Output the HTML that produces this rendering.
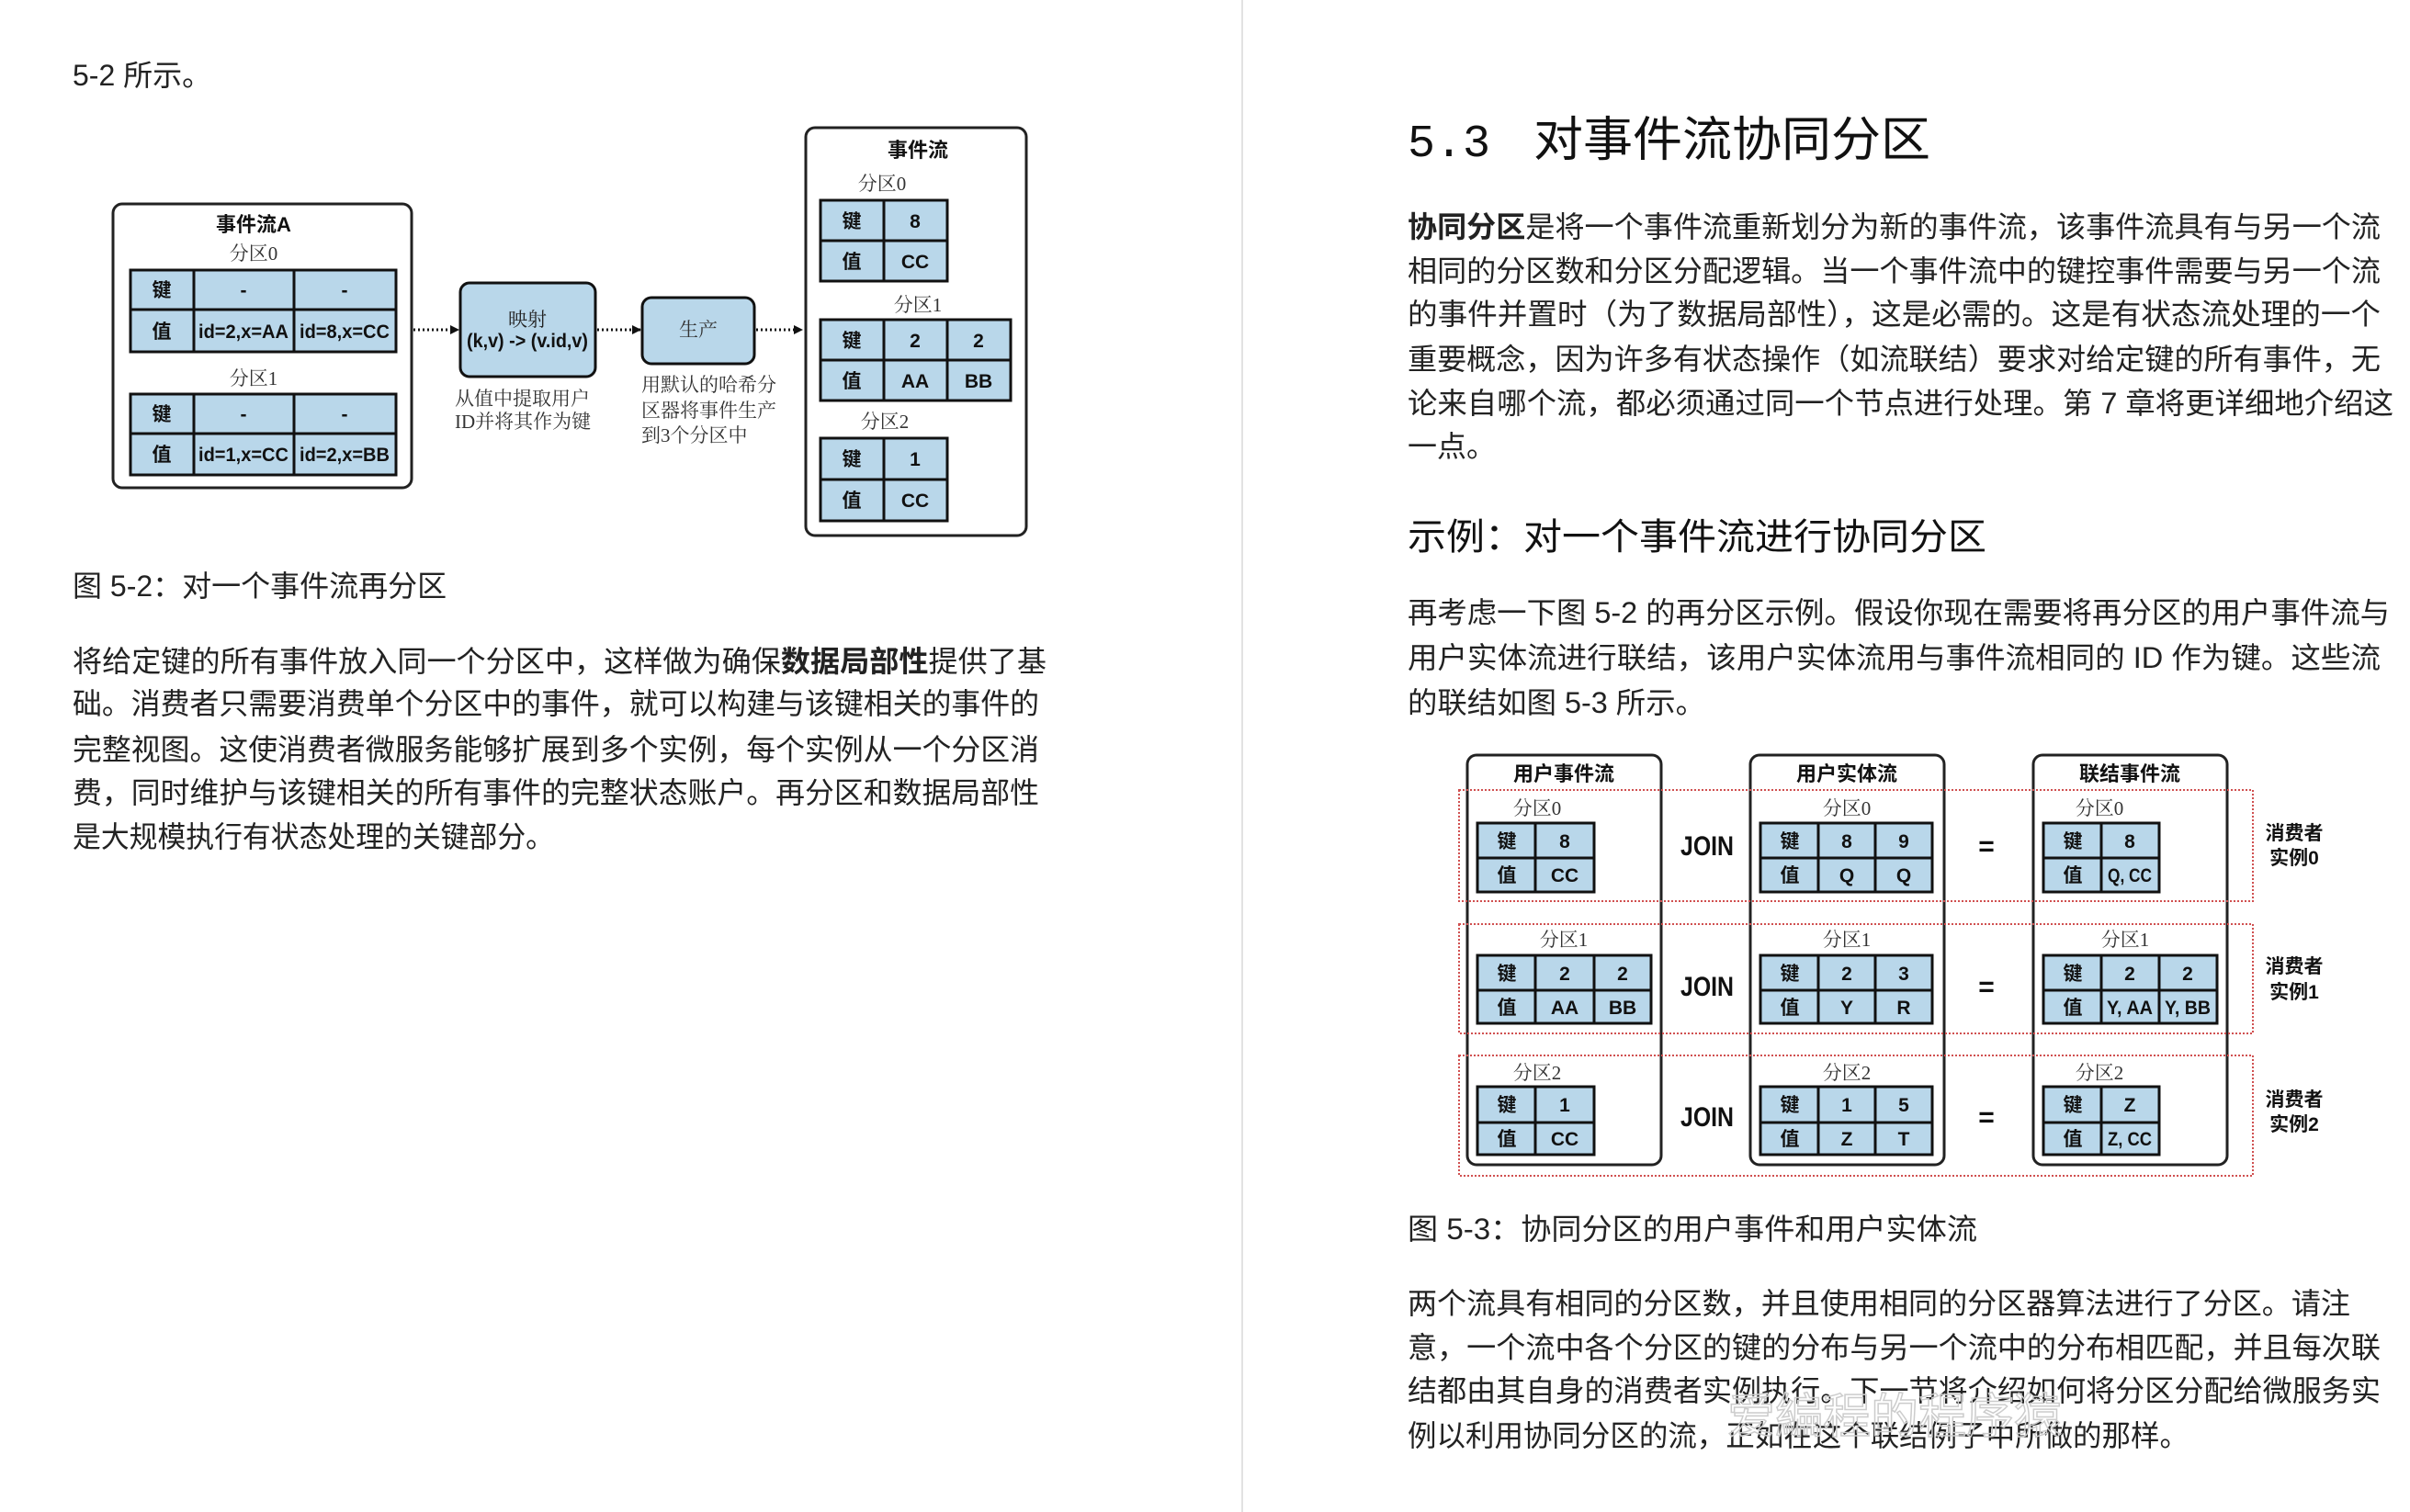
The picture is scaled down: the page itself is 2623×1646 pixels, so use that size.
<!DOCTYPE html>
<html><head><meta charset="utf-8"><style>
html,body{margin:0;padding:0;background:#fff;}
svg{display:block}
.b{font-family:"Liberation Sans","Noto Sans CJK SC",sans-serif;font-size:32px;fill:#222}
.d{font-family:"Liberation Sans","Noto Sans CJK SC",sans-serif;fill:#111}
.c{font-size:21px;text-anchor:middle;font-weight:bold}
.s{font-family:"Liberation Serif","Noto Serif CJK SC",serif;font-size:21px;fill:#333;text-anchor:middle}
</style></head><body>
<svg width="2623" height="1646" viewBox="0 0 2623 1646" xmlns="http://www.w3.org/2000/svg">
<rect width="2623" height="1646" fill="#fff"/>
<line x1="1352" y1="0" x2="1352" y2="1646" stroke="#e2e2e2" stroke-width="2"/>
<defs><marker id="ah" markerWidth="10" markerHeight="10" refX="9" refY="5" orient="auto" markerUnits="userSpaceOnUse"><path d="M0,0 L10,5 L0,10 z" fill="#111"/></marker></defs>

<!-- LEFT PAGE TEXT -->
<text class="b" x="79" y="93">5-2 所示。</text>
<text class="b" x="79" y="649">图 5-2：对一个事件流再分区</text>
<text class="b" x="79" y="731" textLength="1060" lengthAdjust="spacingAndGlyphs">将给定键的所有事件放入同一个分区中，这样做为确保<tspan font-weight="bold">数据局部性</tspan>提供了基</text>
<text class="b" x="79" y="777" textLength="1052" lengthAdjust="spacingAndGlyphs">础。消费者只需要消费单个分区中的事件，就可以构建与该键相关的事件的</text>
<text class="b" x="79" y="827" textLength="1052" lengthAdjust="spacingAndGlyphs">完整视图。这使消费者微服务能够扩展到多个实例，每个实例从一个分区消</text>
<text class="b" x="79" y="874" textLength="1052" lengthAdjust="spacingAndGlyphs">费，同时维护与该键相关的所有事件的完整状态账户。再分区和数据局部性</text>
<text class="b" x="79" y="922" textLength="524" lengthAdjust="spacingAndGlyphs">是大规模执行有状态处理的关键部分。</text>

<!-- LEFT DIAGRAM -->
<g class="d">
<rect x="123" y="222" width="325" height="309" rx="10" fill="#fff" stroke="#222" stroke-width="3"/>
<text x="276" y="252" font-size="22" text-anchor="middle" font-weight="bold">事件流A</text>
<text class="s" x="276" y="283">分区0</text>
<rect x="142" y="294" width="289" height="89" fill="#b9d7ea" stroke="#111" stroke-width="3"/>
<path d="M211 294V383M320 294V383M142 337H431" stroke="#111" stroke-width="3"/>
<text class="c" x="176" y="323">键</text><text class="c" x="265" y="323">-</text><text class="c" x="375" y="323">-</text>
<text class="c" x="176" y="368">值</text><text class="c" x="265" y="368" textLength="98" lengthAdjust="spacingAndGlyphs">id=2,x=AA</text><text class="c" x="375" y="368" textLength="98" lengthAdjust="spacingAndGlyphs">id=8,x=CC</text>
<text class="s" x="276" y="419">分区1</text>
<rect x="142" y="429" width="289" height="88" fill="#b9d7ea" stroke="#111" stroke-width="3"/>
<path d="M211 429V517M320 429V517M142 472H431" stroke="#111" stroke-width="3"/>
<text class="c" x="176" y="458">键</text><text class="c" x="265" y="458">-</text><text class="c" x="375" y="458">-</text>
<text class="c" x="176" y="502">值</text><text class="c" x="265" y="502" textLength="98" lengthAdjust="spacingAndGlyphs">id=1,x=CC</text><text class="c" x="375" y="502" textLength="98" lengthAdjust="spacingAndGlyphs">id=2,x=BB</text>

<line x1="450" y1="359" x2="499" y2="359" stroke="#111" stroke-width="3" stroke-dasharray="2,3" marker-end="url(#ah)"/>
<rect x="501" y="308" width="147" height="102" rx="10" fill="#b9d7ea" stroke="#111" stroke-width="3"/>
<text class="s" x="574" y="355" style="fill:#222">映射</text>
<text class="c" x="574" y="378" textLength="132" lengthAdjust="spacingAndGlyphs">(k,v) -&gt; (v.id,v)</text>
<text class="s" x="495" y="441" style="text-anchor:start">从值中提取用户</text>
<text class="s" x="495" y="466" style="text-anchor:start">ID并将其作为键</text>
<line x1="650" y1="359" x2="697" y2="359" stroke="#111" stroke-width="3" stroke-dasharray="2,3" marker-end="url(#ah)"/>
<rect x="699" y="324" width="122" height="72" rx="10" fill="#b9d7ea" stroke="#111" stroke-width="3"/>
<text class="s" x="760" y="366">生产</text>
<text class="s" x="698" y="426" style="text-anchor:start">用默认的哈希分</text>
<text class="s" x="698" y="454" style="text-anchor:start">区器将事件生产</text>
<text class="s" x="698" y="481" style="text-anchor:start">到3个分区中</text>
<line x1="823" y1="359" x2="873" y2="359" stroke="#111" stroke-width="3" stroke-dasharray="2,3" marker-end="url(#ah)"/>

<rect x="877" y="139" width="240" height="444" rx="10" fill="#fff" stroke="#222" stroke-width="3"/>
<text x="999" y="171" font-size="22" text-anchor="middle" font-weight="bold">事件流</text>
<text class="s" x="960" y="207">分区0</text>
<rect x="893" y="218" width="138" height="88" fill="#b9d7ea" stroke="#111" stroke-width="3"/>
<path d="M962 218V306M893 262H1031" stroke="#111" stroke-width="3"/>
<text class="c" x="927" y="248">键</text><text class="c" x="996" y="248">8</text>
<text class="c" x="927" y="292">值</text><text class="c" x="996" y="292">CC</text>
<text class="s" x="999" y="339">分区1</text>
<rect x="893" y="348" width="207" height="88" fill="#b9d7ea" stroke="#111" stroke-width="3"/>
<path d="M962 348V436M1031 348V436M893 392H1100" stroke="#111" stroke-width="3"/>
<text class="c" x="927" y="378">键</text><text class="c" x="996" y="378">2</text><text class="c" x="1065" y="378">2</text>
<text class="c" x="927" y="422">值</text><text class="c" x="996" y="422">AA</text><text class="c" x="1065" y="422">BB</text>
<text class="s" x="963" y="466">分区2</text>
<rect x="893" y="477" width="138" height="90" fill="#b9d7ea" stroke="#111" stroke-width="3"/>
<path d="M962 477V567M893 522H1031" stroke="#111" stroke-width="3"/>
<text class="c" x="927" y="507">键</text><text class="c" x="996" y="507">1</text>
<text class="c" x="927" y="552">值</text><text class="c" x="996" y="552">CC</text>
</g>

<!-- RIGHT PAGE TEXT -->
<text x="1532" y="170" style="font-family:'Liberation Mono',monospace;font-size:50px;fill:#111">5.3</text>
<text x="1669" y="170" textLength="432" lengthAdjust="spacingAndGlyphs" style="font-family:'Liberation Sans','Noto Sans CJK SC',sans-serif;font-size:52px;fill:#111">对事件流协同分区</text>
<text class="b" x="1532" y="258" textLength="1059" lengthAdjust="spacingAndGlyphs"><tspan font-weight="bold">协同分区</tspan>是将一个事件流重新划分为新的事件流，该事件流具有与另一个流</text>
<text class="b" x="1532" y="306" textLength="1059" lengthAdjust="spacingAndGlyphs">相同的分区数和分区分配逻辑。当一个事件流中的键控事件需要与另一个流</text>
<text class="b" x="1532" y="353" textLength="1059" lengthAdjust="spacingAndGlyphs">的事件并置时（为了数据局部性），这是必需的。这是有状态流处理的一个</text>
<text class="b" x="1532" y="402" textLength="1059" lengthAdjust="spacingAndGlyphs">重要概念，因为许多有状态操作（如流联结）要求对给定键的所有事件，无</text>
<text class="b" x="1532" y="450" textLength="1073" lengthAdjust="spacingAndGlyphs">论来自哪个流，都必须通过同一个节点进行处理。第 7 章将更详细地介绍这</text>
<text class="b" x="1532" y="497">一点。</text>
<text x="1532" y="598" textLength="630" lengthAdjust="spacingAndGlyphs" style="font-family:'Liberation Sans','Noto Sans CJK SC',sans-serif;font-size:40px;fill:#111">示例：对一个事件流进行协同分区</text>
<text class="b" x="1532" y="678" textLength="1069" lengthAdjust="spacingAndGlyphs">再考虑一下图 5-2 的再分区示例。假设你现在需要将再分区的用户事件流与</text>
<text class="b" x="1532" y="727" textLength="1059" lengthAdjust="spacingAndGlyphs">用户实体流进行联结，该用户实体流用与事件流相同的 ID 作为键。这些流</text>
<text class="b" x="1532" y="776" textLength="324" lengthAdjust="spacingAndGlyphs">的联结如图 5-3 所示。</text>
<text class="b" x="1532" y="1349" textLength="620" lengthAdjust="spacingAndGlyphs">图 5-3：协同分区的用户事件和用户实体流</text>
<text class="b" x="1532" y="1430" textLength="1026" lengthAdjust="spacingAndGlyphs">两个流具有相同的分区数，并且使用相同的分区器算法进行了分区。请注</text>
<text class="b" x="1532" y="1478" textLength="1059" lengthAdjust="spacingAndGlyphs">意，一个流中各个分区的键的分布与另一个流中的分布相匹配，并且每次联</text>
<text class="b" x="1532" y="1525" textLength="1059" lengthAdjust="spacingAndGlyphs">结都由其自身的消费者实例执行。下一节将介绍如何将分区分配给微服务实</text>
<text class="b" x="1532" y="1574" textLength="850" lengthAdjust="spacingAndGlyphs">例以利用协同分区的流，正如在这个联结例子中所做的那样。</text>
<text x="1880" y="1560" style="font-family:'Noto Sans CJK SC',sans-serif;font-size:52px;fill:none;stroke:#ccc;stroke-width:1.5">爱編程的程序猿</text>

<!-- RIGHT DIAGRAM -->
<g class="d">
<rect x="1597" y="822" width="211" height="446" rx="10" fill="#fff" stroke="#222" stroke-width="3"/>
<rect x="1905" y="822" width="211" height="446" rx="10" fill="#fff" stroke="#222" stroke-width="3"/>
<rect x="2213" y="822" width="211" height="446" rx="10" fill="#fff" stroke="#222" stroke-width="3"/>
<g fill="none" stroke="#d05050" stroke-width="2" stroke-dasharray="2,2">
<rect x="1588" y="860" width="864" height="121"/>
<rect x="1588" y="1006" width="864" height="119"/>
<rect x="1588" y="1149" width="864" height="131"/>
</g>
<text x="1702" y="850" font-size="22" text-anchor="middle" font-weight="bold">用户事件流</text>
<text x="2010" y="850" font-size="22" text-anchor="middle" font-weight="bold">用户实体流</text>
<text x="2318" y="850" font-size="22" text-anchor="middle" font-weight="bold">联结事件流</text>

<text class="s" x="1673" y="887">分区0</text><text class="s" x="2010" y="887">分区0</text><text class="s" x="2285" y="887">分区0</text>
<text class="s" x="1702" y="1030">分区1</text><text class="s" x="2010" y="1030">分区1</text><text class="s" x="2313" y="1030">分区1</text>
<text class="s" x="1673" y="1175">分区2</text><text class="s" x="2010" y="1175">分区2</text><text class="s" x="2285" y="1175">分区2</text>

<!-- row0 -->
<rect x="1608" y="896" width="127" height="75" fill="#b9d7ea" stroke="#111" stroke-width="3"/>
<path d="M1671 896V971M1608 934H1735" stroke="#111" stroke-width="3"/>
<text class="c" x="1640" y="923">键</text><text class="c" x="1703" y="923">8</text>
<text class="c" x="1640" y="960">值</text><text class="c" x="1703" y="960">CC</text>
<rect x="1916" y="896" width="187" height="75" fill="#b9d7ea" stroke="#111" stroke-width="3"/>
<path d="M1979 896V971M2041 896V971M1916 934H2103" stroke="#111" stroke-width="3"/>
<text class="c" x="1948" y="923">键</text><text class="c" x="2010" y="923">8</text><text class="c" x="2072" y="923">9</text>
<text class="c" x="1948" y="960">值</text><text class="c" x="2010" y="960">Q</text><text class="c" x="2072" y="960">Q</text>
<rect x="2224" y="896" width="126" height="75" fill="#b9d7ea" stroke="#111" stroke-width="3"/>
<path d="M2287 896V971M2224 934H2350" stroke="#111" stroke-width="3"/>
<text class="c" x="2256" y="923">键</text><text class="c" x="2318" y="923">8</text>
<text class="c" x="2256" y="960">值</text><text class="c" x="2318" y="960" textLength="48" lengthAdjust="spacingAndGlyphs">Q, CC</text>

<!-- row1 -->
<rect x="1608" y="1040" width="189" height="74" fill="#b9d7ea" stroke="#111" stroke-width="3"/>
<path d="M1671 1040V1114M1735 1040V1114M1608 1078H1797" stroke="#111" stroke-width="3"/>
<text class="c" x="1640" y="1067">键</text><text class="c" x="1703" y="1067">2</text><text class="c" x="1766" y="1067">2</text>
<text class="c" x="1640" y="1104">值</text><text class="c" x="1703" y="1104">AA</text><text class="c" x="1766" y="1104">BB</text>
<rect x="1916" y="1040" width="187" height="74" fill="#b9d7ea" stroke="#111" stroke-width="3"/>
<path d="M1979 1040V1114M2041 1040V1114M1916 1078H2103" stroke="#111" stroke-width="3"/>
<text class="c" x="1948" y="1067">键</text><text class="c" x="2010" y="1067">2</text><text class="c" x="2072" y="1067">3</text>
<text class="c" x="1948" y="1104">值</text><text class="c" x="2010" y="1104">Y</text><text class="c" x="2072" y="1104">R</text>
<rect x="2224" y="1040" width="189" height="74" fill="#b9d7ea" stroke="#111" stroke-width="3"/>
<path d="M2287 1040V1114M2350 1040V1114M2224 1078H2413" stroke="#111" stroke-width="3"/>
<text class="c" x="2256" y="1067">键</text><text class="c" x="2318" y="1067">2</text><text class="c" x="2381" y="1067">2</text>
<text class="c" x="2256" y="1104">值</text><text class="c" x="2318" y="1104" textLength="50" lengthAdjust="spacingAndGlyphs">Y, AA</text><text class="c" x="2381" y="1104" textLength="50" lengthAdjust="spacingAndGlyphs">Y, BB</text>

<!-- row2 -->
<rect x="1608" y="1183" width="127" height="74" fill="#b9d7ea" stroke="#111" stroke-width="3"/>
<path d="M1671 1183V1257M1608 1222H1735" stroke="#111" stroke-width="3"/>
<text class="c" x="1640" y="1210">键</text><text class="c" x="1703" y="1210">1</text>
<text class="c" x="1640" y="1247">值</text><text class="c" x="1703" y="1247">CC</text>
<rect x="1916" y="1183" width="187" height="74" fill="#b9d7ea" stroke="#111" stroke-width="3"/>
<path d="M1979 1183V1257M2041 1183V1257M1916 1222H2103" stroke="#111" stroke-width="3"/>
<text class="c" x="1948" y="1210">键</text><text class="c" x="2010" y="1210">1</text><text class="c" x="2072" y="1210">5</text>
<text class="c" x="1948" y="1247">值</text><text class="c" x="2010" y="1247">Z</text><text class="c" x="2072" y="1247">T</text>
<rect x="2224" y="1183" width="126" height="74" fill="#b9d7ea" stroke="#111" stroke-width="3"/>
<path d="M2287 1183V1257M2224 1222H2350" stroke="#111" stroke-width="3"/>
<text class="c" x="2256" y="1210">键</text><text class="c" x="2318" y="1210">Z</text>
<text class="c" x="2256" y="1247">值</text><text class="c" x="2318" y="1247" textLength="48" lengthAdjust="spacingAndGlyphs">Z, CC</text>

<g font-size="30" text-anchor="middle" font-weight="bold">
<text x="1858" y="931" textLength="58" lengthAdjust="spacingAndGlyphs">JOIN</text><text x="1858" y="1084" textLength="58" lengthAdjust="spacingAndGlyphs">JOIN</text><text x="1858" y="1226" textLength="58" lengthAdjust="spacingAndGlyphs">JOIN</text>
<text x="2162" y="931">=</text><text x="2162" y="1084">=</text><text x="2162" y="1226">=</text>
</g>
<g font-size="21" text-anchor="middle" font-weight="bold">
<text x="2497" y="914">消费者</text><text x="2497" y="941">实例0</text>
<text x="2497" y="1059">消费者</text><text x="2497" y="1087">实例1</text>
<text x="2497" y="1204">消费者</text><text x="2497" y="1231">实例2</text>
</g>
</g>
</svg>
</body></html>
